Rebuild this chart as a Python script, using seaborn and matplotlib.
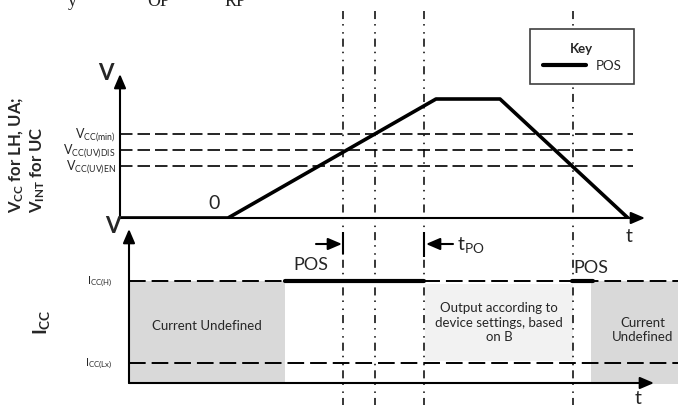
import matplotlib
matplotlib.use('Agg')
import matplotlib.pyplot as plt
import seaborn as sns

# ---- datos del diagrama (tiempo en unidades arbitrarias) ----
v_time = [120, 228, 436, 500, 628]          # forma de onda VCC
v_level = [0.0, 0.0, 1.0, 1.0, 0.0]
v_thr_names = [r'V$_{\mathrm{CC(min)}}$', r'V$_{\mathrm{CC(UV)DIS}}$', r'V$_{\mathrm{CC(UV)EN}}$']
v_thr_values = [0.706, 0.571, 0.437]

i_thr_names = [r'I$_{\mathrm{CC(H)}}$', r'I$_{\mathrm{CC(Lx)}}$']
i_thr_values = [1.0, 0.196]

pos_on_1 = [285, 424]      # POS activo en ICC(H)
pos_on_2 = [572, 593]
marker_times = [343, 375, 424, 573]

undef_1 = [129, 285]
output_zone = [425, 573]
undef_2 = [591, 678]
output_low, output_high = 0.216, 0.97

W, H = 678, 406

sns.set_theme(style='white')
plt.rcParams['font.family'] = ['Lato', 'DejaVu Sans']
plt.rcParams['mathtext.fontset'] = 'custom'
plt.rcParams['mathtext.rm'] = 'Lato'
plt.rcParams['mathtext.bf'] = 'Lato:bold'
plt.rcParams['mathtext.it'] = 'Lato:italic'
plt.rcParams['lines.scale_dashes'] = False


def box(x0, y0, x1, y1):
    return [x0 / W, 1 - y1 / H, (x1 - x0) / W, (y1 - y0) / H]


fig = plt.figure(figsize=(W / 100, H / 100), dpi=100)

# panel superior: V (1 unidad = 119 px)
ax_v = fig.add_axes(box(0, 0, W, 219))
ax_v.set_xlim(0, W)
ax_v.set_ylim(0, 219 / 119)
ax_v.axis('off')

# panel inferior: I (1 unidad = 102 px)
ax_i = fig.add_axes(box(0, 226, W, H))
ax_i.set_xlim(0, W)
ax_i.set_ylim(-22 / 102, 158 / 102)
ax_i.axis('off')

# capa general para marcas verticales y textos
ax_o = fig.add_axes([0, 0, 1, 1])
ax_o.set_xlim(0, W)
ax_o.set_ylim(H, 0)
ax_o.axis('off')

arrow = dict(arrowstyle='-|>,head_length=0.7,head_width=0.3', lw=1.5, color='black',
             shrinkA=0, shrinkB=0)

# --- panel V ---
ax_v.hlines(v_thr_values, 120, 633, colors='black', lw=1.2, linestyles=[(0, (9, 3.6))])
for name, val in zip(v_thr_names, v_thr_values):
    ax_v.text(116, val, name, ha='right', va='center', fontsize=9)
ax_v.annotate('', xy=(120, 1.21), xytext=(120, 0), arrowprops=arrow)
ax_v.annotate('', xy=(645, 0), xytext=(120, 0), arrowprops=arrow)
sns.lineplot(x=v_time, y=v_level, ax=ax_v, color='black', lw=2.6, sort=False,
             label='POS', legend=False)
pos_line = ax_v.lines[-1]

# --- panel I ---
ax_i.fill_between(undef_1, 0, i_thr_values[0], color='#d9d9d9', lw=0)
ax_i.fill_between(undef_2, -0.01, i_thr_values[0], color='#d9d9d9', lw=0)
ax_i.fill_between(output_zone, output_low, output_high, color='#f2f2f2', lw=0)
ax_i.hlines(i_thr_values, 129, W, colors='black', lw=1.4, linestyles=[(0, (12, 4.3))])
for name, val in zip(i_thr_names, i_thr_values):
    ax_i.text(112, val, name, ha='right', va='center', fontsize=8)
ax_i.annotate('', xy=(129, 1.51), xytext=(129, 0), arrowprops=arrow)
ax_i.annotate('', xy=(654, 0), xytext=(129, 0), arrowprops=arrow)
for seg in (pos_on_1, pos_on_2):
    sns.lineplot(x=seg, y=[i_thr_values[0]] * 2, ax=ax_i, color='black', lw=3,
                 solid_capstyle='round', legend=False)

ax_i.text(sum(undef_1) / 2, 0.57, 'Current Undefined', ha='center', va='center',
          fontsize=9.5, color='#262626')
ax_i.text(sum(output_zone) / 2, 0.60, 'Output according to\ndevice settings, based\non B',
          ha='center', va='center', fontsize=9.5, color='#262626', linespacing=1.25)
ax_i.text(643, 0.53, 'Current\nUndefined', ha='center', va='center',
          fontsize=9.5, color='#262626', linespacing=1.25)

# --- marcas verticales ---
ax_o.vlines(marker_times, 12, H, colors='black', lw=1.1,
            linestyles=[(0, (5.8, 3.6, 1.1, 4.7, 1.1, 3.6))])
ax_o.vlines([343, 424], [233, 233], [255, 258], colors='black', lw=1.5)
ax_o.annotate('', xy=(342, 245), xytext=(316, 245), arrowprops=arrow)
ax_o.annotate('', xy=(426, 245), xytext=(453, 245), arrowprops=arrow)
ax_o.text(457, 245, r't$_{\mathrm{PO}}$', ha='left', va='center', fontsize=14)

# --- textos sueltos ---
ax_o.text(106, 73, 'V', ha='center', va='center', fontsize=16, fontweight='bold')
ax_o.text(113, 227, 'V', ha='center', va='center', fontsize=16, fontweight='bold')
ax_o.text(214, 204, '0', ha='center', va='center', fontsize=14)
ax_o.text(629, 237, 't', ha='center', va='center', fontsize=14)
ax_o.text(638, 399, 't', ha='center', va='center', fontsize=14)
ax_o.text(311, 265, 'POS', ha='center', va='center', fontsize=13)
ax_o.text(573, 268, 'POS', ha='left', va='center', fontsize=13)
ax_o.text(17, 213, r'$\mathbf{V_{CC}}$ for LH, UA;', rotation=90, ha='center', va='bottom',
          fontsize=12, fontweight='bold')
ax_o.text(38, 213, r'$\mathbf{V_{INT}}$ for UC', rotation=90, ha='center', va='bottom',
          fontsize=12, fontweight='bold')
ax_o.text(42, 322, r'$\mathbf{I_{CC}}$', rotation=90, ha='center', va='center', fontsize=14)

# texto recortado del documento original (solo se ve la parte baja)
for txt, x in (('y', 68), ('OP', 147), ('RP', 225)):
    ax_o.text(x, 6, txt, ha='left', va='baseline', fontsize=13,
              family='Liberation Serif', color='#222222')

# --- leyenda "Key" ---
leg = ax_o.legend(handles=[pos_line], labels=['POS'], title='Key', loc='upper left',
                  bbox_to_anchor=(530 / W, 1 - 30 / H), borderaxespad=0, fontsize=9.5,
                  title_fontproperties={'weight': 'bold', 'size': 9.5},
                  handlelength=3.3, handletextpad=0.7, borderpad=0.95, labelspacing=0.45,
                  frameon=True, fancybox=False, framealpha=1, edgecolor='#404040')
leg.get_frame().set_linewidth(1.2)
leg.get_lines()[0].set_linewidth(3)
leg.set_zorder(10)

plt.savefig('out.png', dpi=100)
